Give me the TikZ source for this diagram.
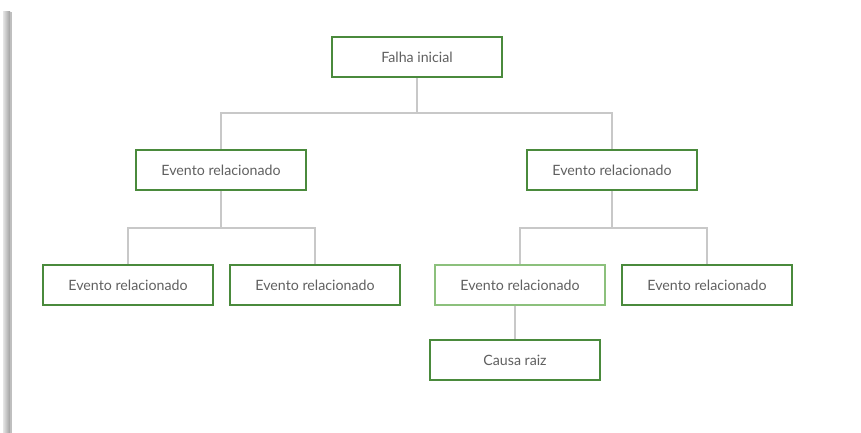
\documentclass[tikz,border=0pt]{standalone}
\usepackage{fontspec}
\setmainfont{Lato}
\definecolor{boxgreen}{HTML}{4A8A3C}
\definecolor{lightgreen}{HTML}{8CC07C}
\definecolor{linegray}{HTML}{C8C8C8}
\definecolor{txtgray}{HTML}{606060}
\begin{document}
\begin{tikzpicture}[x=1pt,y=-1pt,
  evbox/.style={draw=boxgreen,line width=1.6pt,minimum width=170pt,minimum height=40pt,
    inner sep=0pt,fill=white,text=txtgray,font=\fontsize{14.2}{16}\selectfont},
  conn/.style={draw=linegray,line width=1.5pt}]
\useasboundingbox (0,0) rectangle (861,433);
\fill[white] (0,0) rectangle (861,433);
\shade[left color=gray!20,right color=gray!75] (3,12) rectangle (10,433);
\fill[gray!50] (10,12) rectangle (12,433);
\node[evbox] (top) at (417,57) {Falha inicial};
\node[evbox] (l) at (221,170) {Evento relacionado};
\node[evbox] (r) at (612,170) {Evento relacionado};
\node[evbox] (ll) at (128,285) {Evento relacionado};
\node[evbox] (lr) at (315,285) {Evento relacionado};
\node[evbox,draw=lightgreen] (rl) at (520,285) {Evento relacionado};
\node[evbox] (rr) at (707,285) {Evento relacionado};
\node[evbox] (root) at (515,360) {Causa raiz};
\coordinate (j0) at (417,113);
\coordinate (jl) at (221,228);
\coordinate (jr) at (612,228);
\draw[conn] (top.south) -- (j0);
\draw[conn] (l.north) |- (j0) -| (r.north);
\draw[conn] (l.south) -- (jl);
\draw[conn] (ll.north) |- (jl) -| (lr.north);
\draw[conn] (r.south) -- (jr);
\draw[conn] (rl.north) |- (jr) -| (rr.north);
\draw[conn] (rl.south -| root.north) -- (root.north);
\end{tikzpicture}
\end{document}
